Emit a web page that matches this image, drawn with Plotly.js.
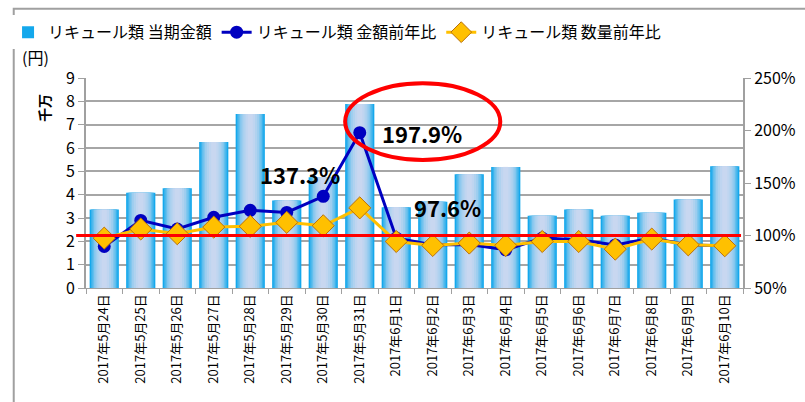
<!DOCTYPE html>
<html>
<head>
<meta charset="utf-8">
<script src="https://cdn.plot.ly/plotly-3.0.1.min.js"></script>
<style>
  html, body { margin: 0; padding: 0; background: #fff; }
  #chart { width: 805px; height: 402px; }
</style>
</head>
<body>
<div id="chart"></div>
<script>
let dates = ['2017年5月24日', '2017年5月25日', '2017年5月26日', '2017年5月27日', '2017年5月28日', '2017年5月29日',
  '2017年5月30日', '2017年5月31日', '2017年6月1日', '2017年6月2日', '2017年6月3日', '2017年6月4日',
  '2017年6月5日', '2017年6月6日', '2017年6月7日', '2017年6月8日', '2017年6月9日', '2017年6月10日']

// 当期金額 (千万円)
let amount = [3.36, 4.08, 4.27, 6.26, 7.46, 3.75, 4.75, 7.89, 3.46, 3.7, 4.87, 5.19, 3.1, 3.36, 3.1, 3.23, 3.79, 5.22]
// 金額前年比 (%)
let amountYoY = [89.5, 114.4, 106.2, 117.3, 124, 122, 137.3, 197.9, 97.6, 91.1, 91.5, 86.4, 97.6, 96, 91, 97.5, 91, 90.2]
// 数量前年比 (%)
let qtyYoY = [97.5, 106.2, 101.7, 108, 108.7, 112.5, 109.3, 126.3, 94.3, 90.5, 92.8, 90.5, 94.3, 94.3, 87, 96.6, 91.1, 90.2]

let font = '"Noto Sans CJK JP", "Noto Sans", sans-serif'

// fake the horizontal gradient of the Excel bars by stacking narrower, lighter bars
let barLayers = [
  [0.8, '#14a8ec'],
  [0.72, '#3db3ec'],
  [0.64, '#63bfed'],
  [0.56, '#84c7ee'],
  [0.48, '#9ccdef'],
  [0.38, '#b0d2ef'],
  [0.26, '#bfd5f0'],
  [0.14, '#c8d7f0']
]

let data = barLayers.map((l, i) => ({
  x: dates,
  y: amount,
  type: 'bar',
  name: 'リキュール類 当期金額',
  width: l[0],
  marker: { color: l[1] },
  showlegend: i === 0,
  hoverinfo: i === 0 ? 'all' : 'skip'
}))

data.push({
  x: dates,
  y: amountYoY,
  yaxis: 'y2',
  type: 'scatter',
  mode: 'lines+markers',
  name: 'リキュール類 金額前年比',
  line: { color: '#0000c0', width: 3 },
  marker: { color: '#0000c0', size: 13, symbol: 'circle' }
})

data.push({
  x: dates,
  y: qtyYoY,
  yaxis: 'y2',
  type: 'scatter',
  mode: 'lines+markers',
  name: 'リキュール類 数量前年比',
  line: { color: '#ffc000', width: 3 },
  marker: { color: '#ffc000', size: 17, symbol: 'diamond', line: { color: '#b8700a', width: 1 } }
})

let layout = {
  width: 805,
  height: 402,
  margin: { l: 86, r: 62, t: 78, b: 114 },
  paper_bgcolor: '#fff',
  plot_bgcolor: '#fff',
  font: { family: font, color: '#000', size: 14 },
  barmode: 'overlay',
  showlegend: true,
  legend: {
    orientation: 'h',
    xref: 'container', yref: 'container',
    x: 0.01, y: 0.962, xanchor: 'left', yanchor: 'top',
    font: { family: font, size: 16 },
    itemwidth: 30,
    tracegroupgap: 0,
    traceorder: 'normal'
  },
  xaxis: {
    type: 'category',
    range: [-0.5, 17.5],
    tickangle: -90,
    tickfont: { family: font, size: 13 },
    tickson: 'boundaries',
    ticks: 'outside',
    ticklen: 5,
    tickcolor: '#a0a0a0',
    showline: true,
    linecolor: '#a0a0a0',
    showgrid: false
  },
  yaxis: {
    range: [0, 9],
    dtick: 1,
    tickfont: { family: font, size: 16 },
    ticks: 'outside',
    ticklen: 6,
    tickcolor: '#a0a0a0',
    showline: true,
    linecolor: '#a0a0a0',
    linewidth: 2,
    gridcolor: '#a6a6a6',
    gridwidth: 1.5,
    zeroline: false
  },
  yaxis2: {
    overlaying: 'y',
    side: 'right',
    range: [50, 250],
    dtick: 50,
    ticksuffix: '%',
    tickfont: { family: font, size: 16 },
    ticks: 'outside',
    ticklen: 6,
    tickcolor: '#a0a0a0',
    showline: true,
    linecolor: '#a0a0a0',
    linewidth: 2,
    showgrid: false,
    zeroline: false
  },
  shapes: [
    // chart border
    { type: 'rect', xref: 'paper', yref: 'paper', x0: -0.11, x1: 1.2, y0: -0.7, y1: 1.33,
      line: { color: '#a0a0a0', width: 2 }, layer: 'below' },
    // 100% reference line
    { type: 'line', xref: 'paper', yref: 'y2', x0: -0.015, x1: 0.997, y0: 100, y1: 100,
      line: { color: '#ff0000', width: 3 }, layer: 'above' },
    // highlight ellipse
    { type: 'circle', xref: 'x', yref: 'y2', x0: 6.6, x1: 10.85, y0: 172, y1: 245,
      line: { color: '#ff0000', width: 4 }, layer: 'above' }
  ],
  annotations: [
    { text: '137.3%', x: 5.35, y: 159, xref: 'x', yref: 'y2', showarrow: false,
      font: { family: font, size: 22, color: '#000', weight: 'bold' } },
    { text: '197.9%', x: 8.7, y: 197.5, xref: 'x', yref: 'y2', showarrow: false,
      font: { family: font, size: 22, color: '#000', weight: 'bold' } },
    { text: '97.6%', x: 9.4, y: 127, xref: 'x', yref: 'y2', showarrow: false,
      font: { family: font, size: 22, color: '#000', weight: 'bold' } },
    { text: '(円)', x: -0.1, y: 1.165, xref: 'paper', yref: 'paper', xanchor: 'left', showarrow: false,
      font: { family: font, size: 16 } },
    { text: '千万', x: -0.083, y: 0.935, xref: 'paper', yref: 'paper', textangle: -90, showarrow: false,
      font: { family: font, size: 14, weight: 'bold' } }
  ]
}

Plotly.newPlot('chart', data, layout, { displayModeBar: false })
</script>
</body>
</html>
